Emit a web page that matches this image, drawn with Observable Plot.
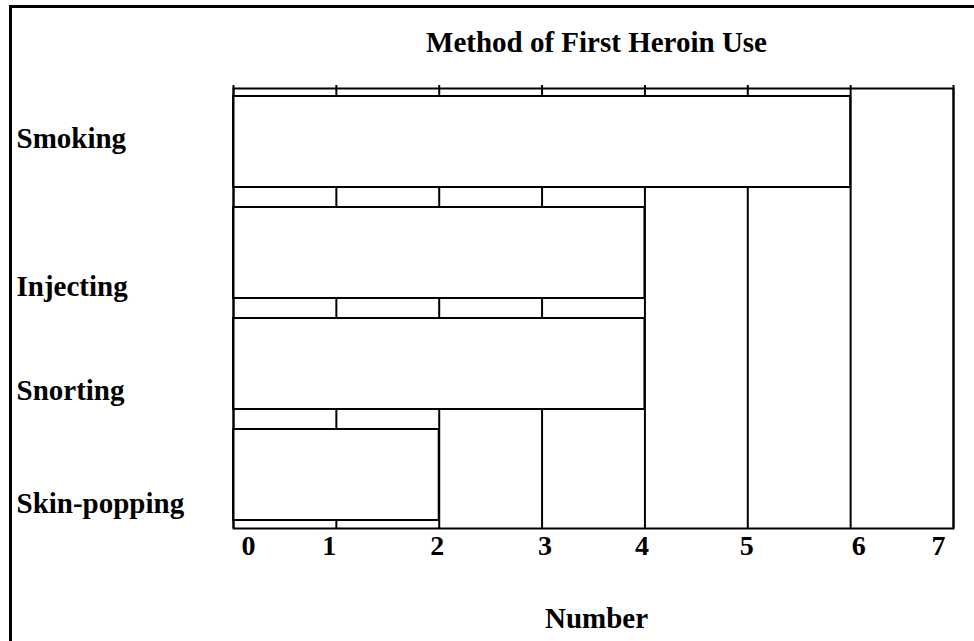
<!DOCTYPE html>
<html>
<head>
<meta charset="utf-8">
<script src="https://cdn.jsdelivr.net/npm/d3@7"></script>
<script src="https://cdn.jsdelivr.net/npm/@observablehq/plot@0.6"></script>
<style>
  html, body { margin: 0; padding: 0; background: white; }
  #wrap { position: relative; width: 974px; height: 641px; }
  #border { position: absolute; left: 9px; top: 5px; width: 965px; height: 636px;
            border-left: 3px solid black; border-top: 3px solid black; box-sizing: border-box; pointer-events: none; }
</style>
</head>
<body>
<div id="wrap"><div id="border"></div></div>
<script>
const categories = ["Smoking", "Injecting", "Snorting", "Skin-popping"];
const counts = [6, 4, 4, 2];
const xTicks = [0, 1, 2, 3, 4, 5, 6, 7];
const title = "Method of First Heroin Use";
const xLabel = "Number";

const data = categories.map((c, i) => ({method: c, number: counts[i]}));

// label offsets (style only)
const labelDy = {"Smoking": -3, "Injecting": 34, "Snorting": 27, "Skin-popping": 29};
const tickDx = {0: 15, 1: -7, 2: -2, 3: 3, 4: -3, 5: -1, 6: 8, 7: -15};
const font = '"Liberation Serif", "Times New Roman", serif';

const chart = Plot.plot({
  width: 974,
  height: 641,
  marginTop: 88,
  marginRight: 21,
  marginBottom: 113,
  marginLeft: 233,
  x: {domain: [0, 7], axis: null},
  y: {domain: categories, axis: null, paddingInner: 0.18, paddingOuter: 0.07},
  style: {fontFamily: font, fontWeight: "bold", background: "transparent", color: "black"},
  marks: [
    Plot.ruleX(xTicks, {x: d => d, stroke: "black", strokeWidth: 2, insetTop: -3}),
    Plot.barX(data, {y: "method", x: "number", fill: "white", stroke: "black", strokeWidth: 2}),
    Plot.frame({stroke: "black", strokeWidth: 2}),
    ...categories.map(c => Plot.text([c], {
      y: d => d, text: d => d, frameAnchor: "left", textAnchor: "start",
      dx: -217, dy: labelDy[c], fontSize: 29, fontWeight: "bold", fill: "black"
    })),
    ...xTicks.map(t => Plot.text([t], {
      x: d => d, text: d => String(d), frameAnchor: "bottom",
      dx: tickDx[t], dy: 26, fontSize: 28, fontWeight: "bold", fill: "black"
    })),
    Plot.text([title], {text: d => d, frameAnchor: "top", dx: 3, dy: -57, fontSize: 29, fontWeight: "bold", fill: "black"}),
    Plot.text([xLabel], {text: d => d, frameAnchor: "bottom", dx: 3, dy: 99, fontSize: 29, fontWeight: "bold", fill: "black"})
  ]
});
document.getElementById("wrap").prepend(chart);
</script>
</body>
</html>
